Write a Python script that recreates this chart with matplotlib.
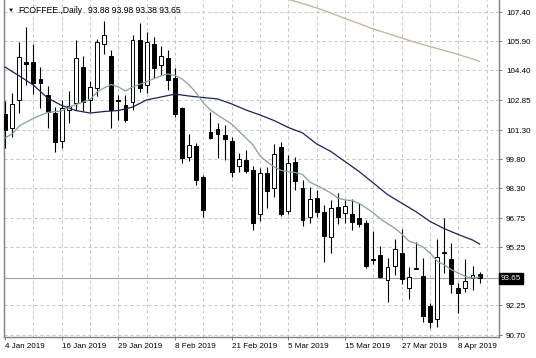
import matplotlib
matplotlib.use('Agg')
import matplotlib.pyplot as plt
import matplotlib.transforms as mtransforms

plt.rcParams['font.family'] = ['Liberation Sans', 'DejaVu Sans']

# daily OHLC, 4 Jan 2019 .. 11 Apr 2019
opens = [102.14, 101.43, 102.87, 104.81, 104.85, 103.94, 103.12, 102.18, 100.74, 102.35,
         102.69, 104.57, 102.87, 103.49, 105.75, 105.14, 102.87, 102.61, 102.78, 105.97,
         103.64, 105.76, 104.68, 105.06, 103.99, 102.43, 99.93, 100.48, 98.86, 101.22,
         101.34, 101.05, 100.74, 99.45, 99.76, 99.24, 96.94, 99.07, 98.30, 100.45,
         97.12, 99.67, 98.30, 96.80, 97.78, 97.09, 95.76, 97.33, 97.00, 96.97,
         96.74, 96.48, 94.66, 94.84, 93.55, 94.27, 94.96, 93.12, 94.17, 93.76,
         92.20, 91.52, 95.00, 94.62, 93.12, 93.12, 93.65, 93.88]
highs = [102.81, 103.21, 105.88, 106.66, 105.76, 104.59, 103.59, 102.50, 102.87, 103.31,
         105.97, 105.12, 103.85, 106.02, 106.95, 105.45, 103.12, 103.12, 106.23, 106.83,
         106.38, 106.13, 105.66, 105.45, 104.52, 102.52, 101.11, 100.66, 98.98, 102.26,
         101.70, 101.57, 100.95, 100.12, 100.28, 99.45, 99.33, 99.40, 100.59, 100.69,
         100.02, 99.92, 98.73, 98.38, 98.21, 97.43, 97.69, 98.05, 97.69, 97.74,
         97.53, 96.66, 96.10, 95.31, 94.67, 95.66, 96.17, 94.24, 95.53, 94.67,
         92.38, 95.66, 96.76, 95.49, 93.41, 94.62, 94.27, 93.98]
lows = [100.38, 100.97, 102.18, 103.64, 103.18, 102.45, 101.42, 100.19, 100.38, 101.68,
        102.35, 102.30, 102.24, 103.07, 105.25, 101.42, 101.83, 101.73, 102.35, 103.29,
        103.23, 104.00, 104.16, 103.38, 101.99, 99.61, 99.71, 98.47, 96.83, 100.85,
        99.84, 99.76, 98.90, 99.14, 99.09, 96.16, 96.58, 97.25, 97.87, 96.84,
        96.94, 98.21, 96.34, 96.52, 96.83, 94.48, 94.97, 96.45, 96.48, 96.14,
        96.31, 94.16, 94.38, 93.64, 92.43, 93.81, 93.34, 92.55, 94.10, 91.39,
        91.05, 91.10, 93.93, 92.86, 91.83, 92.94, 93.03, 93.38]
closes = [101.31, 102.64, 105.11, 104.73, 103.73, 103.73, 102.22, 100.71, 102.44, 102.55,
          105.02, 102.76, 103.54, 105.88, 106.25, 102.35, 102.81, 101.83, 105.97, 103.49,
          105.88, 104.52, 105.12, 103.90, 102.14, 99.85, 100.54, 98.70, 97.17, 100.91,
          101.08, 100.87, 99.16, 99.81, 99.19, 96.52, 99.11, 98.17, 100.07, 96.99,
          99.59, 98.69, 96.66, 97.73, 97.09, 95.83, 97.26, 96.81, 97.38, 96.57,
          96.45, 94.27, 94.61, 93.72, 94.21, 95.15, 93.59, 93.69, 94.13, 91.69,
          91.39, 94.76, 94.95, 93.34, 92.90, 93.50, 93.81, 93.65]

# moving averages (bar index, price)
fast_idx = [0, 1, 2, 4, 6, 8, 9, 10, 12, 13, 14, 15, 16, 17, 18, 20, 22, 23, 24, 25,
            26, 27, 28, 29, 30, 32, 34, 35, 36, 37, 38, 39, 40, 41, 42, 43, 44, 45, 46, 47,
            48, 49, 50, 51, 52, 53, 54, 55, 56, 57, 58, 59, 60, 61, 62, 63, 64, 65, 66, 67]
fast_ma = [100.90, 101.11, 101.52, 101.92, 102.22, 102.30, 102.48, 102.63, 102.89, 103.28,
           103.49, 103.67, 103.54, 103.33, 103.54, 103.82, 104.11, 104.21, 104.13, 103.95,
           103.64, 103.23, 102.71, 102.35, 102.09, 101.62, 100.90, 100.54, 99.97, 99.66,
           99.40, 99.22, 99.16, 99.11, 99.01, 98.62, 98.44, 98.26, 98.05, 97.79,
           97.69, 97.66, 97.51, 97.28, 97.02, 96.71, 96.47, 96.24, 95.93, 95.57,
           95.44, 95.26, 94.95, 94.53, 94.33, 94.09, 93.91, 93.73, 93.65, 93.70]
mid_idx = [0, 2, 4, 6, 8, 10, 12, 14, 16, 18, 20, 22, 24, 26, 28, 30, 32, 34, 36, 38,
           40, 42, 44, 46, 48, 50, 52, 54, 56, 58, 60, 62, 64, 66, 67]
mid_ma = [104.57, 104.11, 103.64, 102.97, 102.58, 102.32, 102.19, 102.27, 102.32, 102.50,
          102.87, 103.02, 103.17, 103.07, 102.99, 102.92, 102.66, 102.35, 102.09, 101.80,
          101.44, 101.16, 100.59, 100.20, 99.68, 99.16, 98.57, 97.97, 97.53, 97.09,
          96.58, 96.21, 95.90, 95.62, 95.41]
slow_idx = [40, 42, 44, 46, 48, 50, 52, 54, 56, 58, 60, 62, 64, 66, 67]
slow_ma = [108.07, 107.86, 107.63, 107.37, 107.08, 106.82, 106.54, 106.31, 106.07, 105.84,
           105.63, 105.43, 105.22, 104.99, 104.86]

date_labels = ['4 Jan 2019', '16 Jan 2019', '29 Jan 2019', '8 Feb 2019', '21 Feb 2019',
               '5 Mar 2019', '15 Mar 2019', '27 Mar 2019', '8 Apr 2019']
price_ticks = [107.40, 105.90, 104.40, 102.85, 101.30, 99.80, 98.30, 96.75, 95.25, 92.25, 90.70]
price_labels = ['107.40', '105.90', '104.40', '102.85', '101.30', '99.80', '98.30',
                '96.75', '95.25', '92.25', '90.70']

fig = plt.figure(figsize=(5.36, 3.58), dpi=100)
ax = fig.add_axes([4 / 536, 1 - 337 / 358, 495 / 536, 337 / 358])

n = len(opens)
xs = list(range(n))
ax.set_xlim(-0.15, 69.74)
ax.set_ylim(90.60, 108.04)

# grid
grid_kw = dict(color='#c4c4c4', linewidth=0.72, linestyle=(0, (3, 3)), zorder=1)
for gx in range(4, n + 2, 4):
    ax.axvline(gx, **grid_kw)
for gy in price_ticks:
    ax.axhline(gy, **grid_kw)

# last price line
ax.axhline(closes[-1], color='#a0a0a0', linewidth=0.8, zorder=1.5)

# candles
bottoms = [min(o, c) for o, c in zip(opens, closes)]
heights = [abs(c - o) for o, c in zip(opens, closes)]
colors = ['white' if c >= o else 'black' for o, c in zip(opens, closes)]
ax.vlines(xs, lows, highs, color='black', linewidth=0.8, zorder=3)
ax.bar(xs, heights, bottom=bottoms, width=0.55, color=colors,
       edgecolor='black', linewidth=0.7, zorder=4)

# moving averages
ax.plot(slow_idx, slow_ma, color='#c2b290', linewidth=0.9, zorder=5)
ax.plot(mid_idx, mid_ma, color='#1e1f5e', linewidth=0.9, zorder=5)
ax.plot(fast_idx, fast_ma, color='#7fa595', linewidth=0.9, zorder=5)

# axes styling
for side in ['left', 'bottom', 'right']:
    ax.spines[side].set_color('#808080')
    ax.spines[side].set_linewidth(1.0)
ax.spines['top'].set_visible(False)

ax.yaxis.tick_right()
ax.set_yticks(price_ticks)
ax.set_yticklabels(price_labels, fontsize=5.8)
ax.tick_params(axis='y', length=2, width=0.7, color='#808080', pad=3)

ax.set_xticks(list(range(0, n, 8)))
ax.set_xticklabels(date_labels, fontsize=5.8, ha='left')
ax.tick_params(axis='x', length=2.5, width=0.7, color='#808080', pad=1.5)

# current price tag
trans = mtransforms.blended_transform_factory(ax.transAxes, ax.transData)
ax.text(1.004, closes[-1], f'{closes[-1]:.2f}', transform=trans, fontsize=5.8,
        color='white', va='center', ha='left',
        bbox=dict(boxstyle='square,pad=0.25', facecolor='black', edgecolor='black'))

# header
fig.text(8 / 536, 1 - 10.5 / 358, '\u25bc', fontsize=4.5, va='center', ha='left')
fig.text(18 / 536, 1 - 10.5 / 358, 'FCOFFEE.,Daily', fontsize=6.2, va='center', ha='left')
values = f'{opens[-1]:.2f} {highs[-1]:.2f} {lows[-1]:.2f} {closes[-1]:.2f}'
fig.text(88 / 536, 1 - 10.5 / 358, values, fontsize=6.2, va='center', ha='left')

fig.savefig('out.png', dpi=100, facecolor='white')
